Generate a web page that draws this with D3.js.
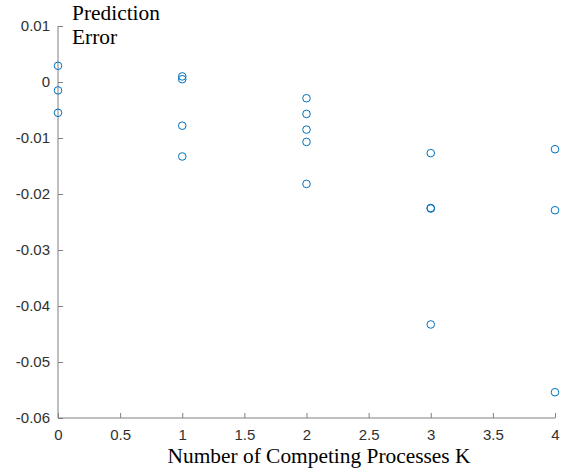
<!DOCTYPE html>
<html lang="en">
<head>
  <meta charset="UTF-8">
  <title>Prediction Error vs K</title>
  <script src="https://d3js.org/d3.v7.min.js"></script>
  <style>
    body { margin: 0; background: #ffffff; }
    svg { display: block; }
    .tick text { font-family: "Liberation Sans", Arial, sans-serif; font-size: 15px; fill: #303030; }
    .axis path, .axis line { stroke: #808080; }
    .label { font-family: "Liberation Serif", "Times New Roman", serif; font-size: 21.4px; fill: #000; }
  </style>
</head>
<body>
  <svg width="565" height="469"></svg>
  <script>
    // number of competing processes for each sample
    const kValues = [0, 0, 0, 1, 1, 1, 1, 2, 2, 2, 2, 2, 3, 3, 3, 3, 4, 4, 4];
    const errors = [0.0029, -0.0015, -0.0055,
                    0.0010, 0.0005, -0.0078, -0.0133,
                    -0.0029, -0.0057, -0.0085, -0.0107, -0.0182,
                    -0.0127, -0.0225, -0.0226, -0.0433,
                    -0.0120, -0.0229, -0.0554];
    const xTicks = [0, 0.5, 1, 1.5, 2, 2.5, 3, 3.5, 4];
    const yTicks = [0.01, 0, -0.01, -0.02, -0.03, -0.04, -0.05, -0.06];

    const plot = { left: 58, right: 555, top: 26, bottom: 418 };
    const svg = d3.select("svg");
    const fmt = d3.formatLocale({ decimal: ".", thousands: ",", grouping: [3], currency: ["", ""], minus: "-" });

    const x = d3.scaleLinear().domain([0, 4]).range([plot.left, plot.right]);
    const y = d3.scaleLinear().domain([-0.06, 0.01]).range([plot.bottom, plot.top]);

    // inward ticks, matlab style
    svg.append("g")
      .attr("class", "axis")
      .attr("transform", `translate(0,${plot.bottom})`)
      .call(d3.axisTop(x).tickValues(xTicks).tickSize(5).tickFormat(fmt.format("")))
      .call(g => g.selectAll("text").attr("y", 11).attr("dy", "0.71em"))
      .call(g => g.select(".domain").attr("d", `M${plot.left},0H${plot.right}`));

    svg.append("g")
      .attr("class", "axis")
      .attr("transform", `translate(${plot.left},0)`)
      .call(d3.axisRight(y).tickValues(yTicks).tickSize(5).tickFormat(d => d === 0 ? "0" : fmt.format(".2f")(d)))
      .call(g => g.selectAll("text").attr("x", -8).attr("text-anchor", "end"))
      .call(g => g.select(".domain").attr("d", `M0,${plot.top}V${plot.bottom}`));

    svg.append("g")
      .selectAll("circle")
      .data(kValues)
      .join("circle")
      .attr("cx", d => x(d))
      .attr("cy", (d, i) => y(errors[i]))
      .attr("r", 3.8)
      .attr("fill", "none")
      .attr("stroke", "#0072BD")
      .attr("stroke-width", 1);

    svg.append("text").attr("class", "label").attr("x", 72).attr("y", 20).text("Prediction");
    svg.append("text").attr("class", "label").attr("x", 72).attr("y", 44).text("Error");

    svg.append("text").attr("class", "label")
      .attr("x", 319).attr("y", 463)
      .attr("text-anchor", "middle")
      .text("Number of Competing Processes K");
  </script>
</body>
</html>
